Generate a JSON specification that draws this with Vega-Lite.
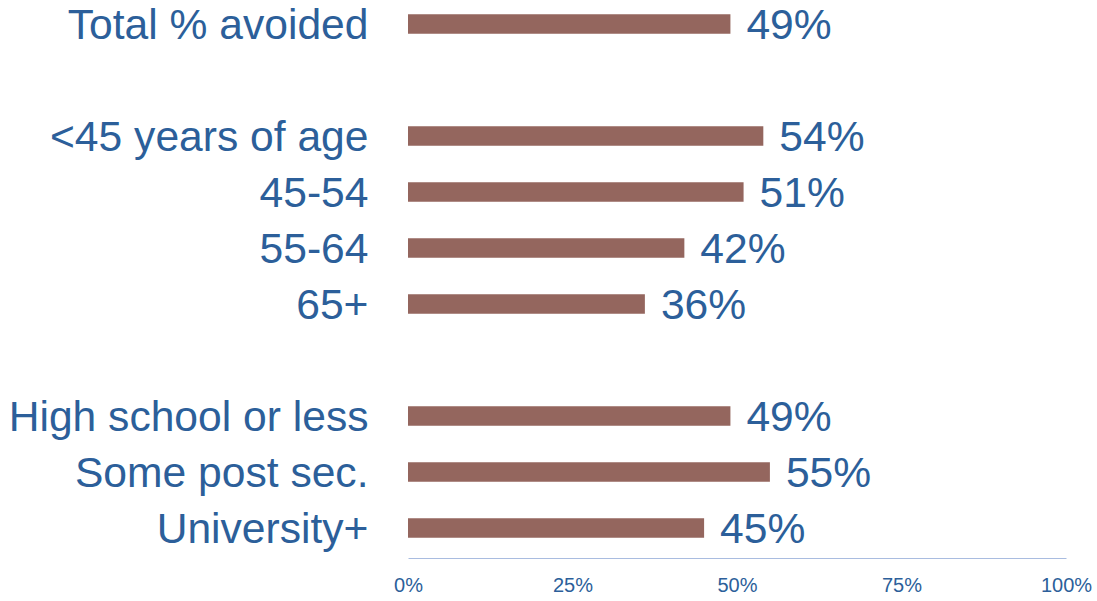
{
  "$schema": "https://vega.github.io/schema/vega-lite/v6.json",
  "autosize": "none",
  "width": 658,
  "height": 552,
  "padding": {"left": 408, "top": 0, "right": 31, "bottom": 49},
  "background": "white",
  "config": {"view": {"stroke": null}, "font": "Liberation Sans"},
  "data": {"values": [
    {"label": "Total % avoided", "value": 0.49},
    {"label": "<45 years of age", "value": 0.54},
    {"label": "45-54", "value": 0.51},
    {"label": "55-64", "value": 0.42},
    {"label": "65+", "value": 0.36},
    {"label": "High school or less", "value": 0.49},
    {"label": "Some post sec.", "value": 0.55},
    {"label": "University+", "value": 0.45}
  ]},
  "encoding": {
    "y": {
      "field": "label", "type": "nominal",
      "scale": {
        "domain": ["Total % avoided", " ", "<45 years of age", "45-54", "55-64", "65+", "  ", "High school or less", "Some post sec.", "University+"],
        "paddingInner": 0.652, "paddingOuter": 0.2545
      },
      "axis": {
        "title": null, "ticks": false, "domain": false, "labelPadding": 40,
        "labelFont": "Liberation Sans", "labelFontSize": 42.6, "labelColor": "#2C5F9A",
        "labelLimit": 500, "labelBaseline": "middle", "labelOffset": 2
      }
    },
    "x": {
      "field": "value", "type": "quantitative",
      "scale": {"domain": [0, 1], "nice": false},
      "axis": {
        "title": null, "values": [0, 0.25, 0.5, 0.75, 1], "format": ".0%", "grid": false,
        "ticks": false, "offset": 6, "domainColor": "#A9BCE0", "domainWidth": 1,
        "labelFont": "Liberation Sans", "labelFontSize": 20, "labelColor": "#2C5F9A",
        "labelPadding": 17, "labelFlush": false
      }
    }
  },
  "layer": [
    {"mark": {"type": "bar", "color": "#94665E"}},
    {
      "mark": {"type": "text", "align": "left", "baseline": "middle", "dx": 16, "dy": 2, "font": "Liberation Sans", "fontSize": 42.6, "color": "#2C5F9A"},
      "encoding": {"text": {"field": "value", "type": "quantitative", "format": ".0%"}}
    }
  ]
}
